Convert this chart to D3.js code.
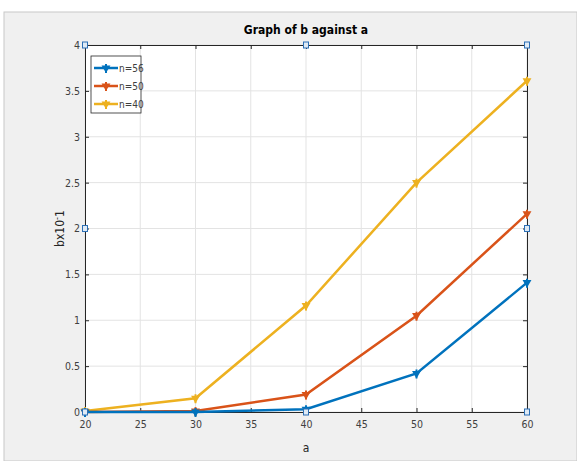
<!DOCTYPE html>
<html><head><meta charset="utf-8">
<script src="https://cdn.jsdelivr.net/npm/d3@7"></script>
<style>body{margin:0;background:#fff} text{font-stretch:condensed}</style>
</head><body>
<svg id="c" width="577" height="461"></svg>
<script>
const aValues = [20, 30, 40, 50, 60];
const n56 = [0, 0, 0.03, 0.42, 1.41];
const n50 = [0, 0.01, 0.19, 1.05, 2.16];
const n40 = [0.01, 0.15, 1.16, 2.50, 3.61];
const seriesNames = ["n=56", "n=50", "n=40"];
const seriesColors = ["#0072BD", "#D95319", "#EDB120"];
const xTicks = [20, 25, 30, 35, 40, 45, 50, 55, 60];
const yTicks = [0, 0.5, 1, 1.5, 2, 2.5, 3, 3.5, 4];

const svg = d3.select("#c");
const font = "'DejaVu Sans Condensed','Liberation Sans Narrow','Arial Narrow',sans-serif";
svg.append("rect").attr("x", 4).attr("y", 12).attr("width", 573).attr("height", 449)
  .attr("fill", "#f0f0f0").attr("stroke", "#c8c8c8");

const L = 85, R = 527, T = 45, B = 412;
const x = d3.scaleLinear().domain([20, 60]).range([L, R]);
const y = d3.scaleLinear().domain([0, 4]).range([B, T]);

svg.append("rect").attr("x", L).attr("y", T).attr("width", R - L).attr("height", B - T).attr("fill", "#fff");

// grid
svg.append("g").selectAll("line").data(xTicks).join("line")
  .attr("x1", d => x(d)).attr("x2", d => x(d)).attr("y1", T).attr("y2", B)
  .attr("stroke", "#e3e3e3");
svg.append("g").selectAll("line").data(yTicks).join("line")
  .attr("y1", d => y(d)).attr("y2", d => y(d)).attr("x1", L).attr("x2", R)
  .attr("stroke", "#e3e3e3");

// axes
const gx = svg.append("g").attr("transform", `translate(0,${B})`)
  .call(d3.axisBottom(x).tickValues(xTicks).tickSize(-4).tickPadding(9));
const gxt = svg.append("g").attr("transform", `translate(0,${T})`)
  .call(d3.axisTop(x).tickValues(xTicks).tickSize(-4).tickFormat(""));
const gy = svg.append("g").attr("transform", `translate(${L},0)`)
  .call(d3.axisLeft(y).tickValues(yTicks).tickSize(-4).tickPadding(5).tickFormat(d3.format("~g")));
const gyr = svg.append("g").attr("transform", `translate(${R},0)`)
  .call(d3.axisRight(y).tickValues(yTicks).tickSize(-4).tickFormat(""));
[gx, gxt, gy, gyr].forEach(g => {
  g.selectAll("path").attr("stroke", "#262626");
  g.selectAll("line").attr("stroke", "#262626");
  g.selectAll("text").attr("fill", "#404040").style("font-family", font).style("font-size", "10.5px");
});

// lines
const data = [n56, n50, n40];
const line = d3.line().x((d, i) => x(aValues[i])).y(d => y(d));
const marker = d3.symbol().type(d3.symbolTriangle).size(34);
[2, 1, 0].forEach(k => {
  svg.append("path").datum(data[k]).attr("d", line).attr("fill", "none")
    .attr("stroke", seriesColors[k]).attr("stroke-width", 2.5);
});
[2, 1, 0].forEach(k => {
  const g = svg.append("g");
  g.selectAll("path").data(data[k]).join("path")
    .attr("d", marker)
    .attr("transform", (d, i) => `translate(${x(aValues[i])},${y(d)}) rotate(180)`)
    .attr("fill", seriesColors[k]);
  g.selectAll("line").data(data[k]).join("line")
    .attr("x1", (d, i) => x(aValues[i])).attr("x2", (d, i) => x(aValues[i]))
    .attr("y1", d => y(d) - 4).attr("y2", d => y(d) + 5)
    .attr("stroke", seriesColors[k]).attr("stroke-width", 2);
});

// selection handles
const hx = [L, (L + R) / 2, R], hy = [T, (T + B) / 2, B];
const handles = [];
hx.forEach((px, i) => hy.forEach((py, j) => { if (!(i === 1 && j === 1)) handles.push([px, py]); }));
svg.append("g").selectAll("rect").data(handles).join("rect")
  .attr("x", d => d[0] - 2.5).attr("y", d => d[1] - 3).attr("width", 5).attr("height", 6)
  .attr("fill", "#dfeaf5").attr("stroke", "#2c6fb5").attr("stroke-width", 1);

// title & labels
svg.append("text").attr("x", (L + R) / 2).attr("y", 34).attr("text-anchor", "middle")
  .style("font-family", font).style("font-size", "12px").style("font-weight", "bold")
  .attr("fill", "#000").text("Graph of b against a");
svg.append("text").attr("x", (L + R) / 2).attr("y", 452).attr("text-anchor", "middle")
  .style("font-family", font).style("font-size", "12px").attr("fill", "#262626").text("a");
const yl = svg.append("text").attr("transform", `translate(64,${(T + B) / 2}) rotate(-90)`)
  .attr("text-anchor", "middle").style("font-family", font).style("font-size", "12px").attr("fill", "#262626");
yl.append("tspan").text("bx10");
yl.append("tspan").attr("dy", -4).style("font-size", "9px").text("-");
yl.append("tspan").attr("dy", 4).text("1");

// legend
const lg = svg.append("g");
lg.append("rect").attr("x", 91).attr("y", 56).attr("width", 50).attr("height", 57)
  .attr("fill", "#fff").attr("stroke", "#262626").attr("stroke-width", 0.8);
seriesNames.forEach((name, i) => {
  const yy = 68 + i * 18;
  lg.append("line").attr("x1", 94).attr("x2", 118).attr("y1", yy).attr("y2", yy)
    .attr("stroke", seriesColors[i]).attr("stroke-width", 2.5);
  lg.append("path").attr("d", marker).attr("transform", `translate(106,${yy}) rotate(180)`).attr("fill", seriesColors[i]);
  lg.append("line").attr("x1", 106).attr("x2", 106).attr("y1", yy - 4).attr("y2", yy + 5)
    .attr("stroke", seriesColors[i]).attr("stroke-width", 2);
  lg.append("text").attr("x", 119).attr("y", yy + 4).style("font-family", font).style("font-size", "10px")
    .attr("fill", "#404040").text(name);
});
</script>
</body></html>
